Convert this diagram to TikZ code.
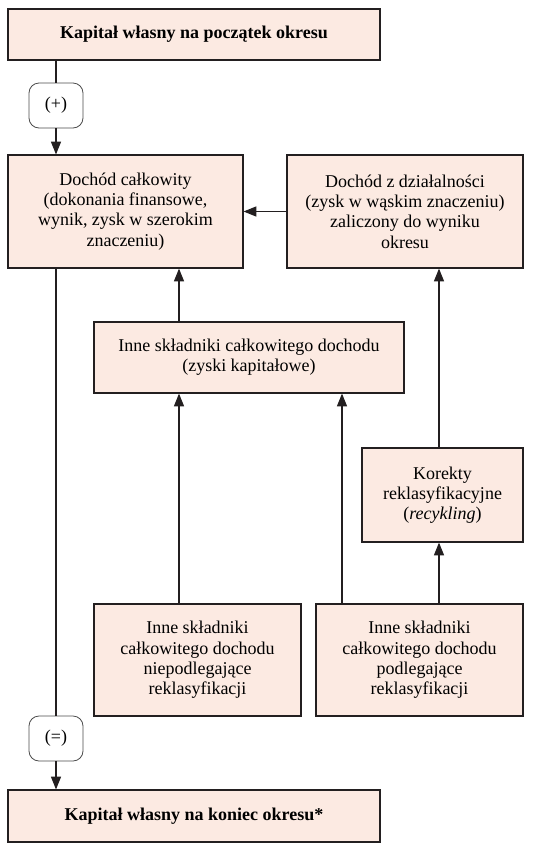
\documentclass[tikz,border=0pt]{standalone}
\usepackage{fontspec}
\setmainfont{Liberation Serif}
\newfontfamily\diagfont{Liberation Serif}
\usepackage{tikz}
\usetikzlibrary{arrows.meta}
\definecolor{boxFill}{RGB}{252,234,226}
\definecolor{boxLine}{RGB}{35,31,32}

\begin{document}
\begin{tikzpicture}[
  x=0.75pt,y=-0.75pt,
  font=\diagfont\fontsize{13.5}{15.2}\selectfont,
  every node/.style={align=center},
  finBox/.style={draw=boxLine,line width=0.9pt,rectangle,fill=boxFill,inner sep=2pt},
  capBox/.style={finBox,font=\diagfont\fontsize{13.5}{15.2}\selectfont\bfseries,minimum width=279pt},
  opSign/.style={draw=black!70,line width=0.6pt,rounded corners=7.5pt,fill=white,
    minimum width=40.5pt,minimum height=33.75pt,inner sep=0pt},
  flowLine/.style={-,line width=0.8pt,boxLine},
  flowArrow/.style={-{Triangle[length=9.5pt,width=7.5pt]},line width=0.8pt,boxLine}]

  \useasboundingbox (0,0) rectangle (544,851);

  % columns used by the vertical connectors
  \coordinate (colL) at (56,0);
  \coordinate (colA) at (179,0);
  \coordinate (colB) at (342,0);
  \coordinate (colC) at (439,0);

  % equity at the start and at the end
  \node[capBox,minimum height=38.25pt] (kStart) at (194,34.5) {Kapitał własny na początek okresu};
  \node[capBox,minimum height=39pt] (kEnd) at (194,816) {Kapitał własny na koniec okresu*};

  \node[opSign] (plus) at (56,105.5) {(+)};
  \node[opSign] (equals) at (56,738.5) {(=)};

  % income boxes
  \node[finBox,minimum width=176.25pt,minimum height=84.75pt] (dCalk) at (125.5,211.5)
    {Dochód całkowity\\(dokonania finansowe,\\wynik, zysk w szerokim\\znaczeniu)};
  \node[finBox,minimum width=177pt,minimum height=84.75pt] (dDzial) at (405,211.5)
    {Dochód z działalności\\(zysk w wąskim znaczeniu)\\zaliczony do wyniku\\okresu};
  \node[finBox,minimum width=232.5pt,minimum height=53.25pt] (inneSkl) at (249,357.5)
    {Inne składniki całkowitego dochodu\\(zyski kapitałowe)};
  \node[finBox,minimum width=120.75pt,minimum height=70.5pt] (korekty) at (442.5,495)
    {Korekty\\reklasyfikacyjne\\(\textit{recykling})};
  \node[finBox,minimum width=155.25pt,minimum height=84pt] (nieReklas) at (197.5,660)
    {Inne składniki\\całkowitego dochodu\\niepodlegające\\reklasyfikacji};
  \node[finBox,minimum width=155.25pt,minimum height=84pt] (reklas) at (419.5,660)
    {Inne składniki\\całkowitego dochodu\\podlegające\\reklasyfikacji};

  % main line on the left
  \draw [flowLine] (kStart.south -| colL) -- (plus.north);
  \draw [flowArrow] (plus.south) -- (dCalk.north -| colL);
  \draw [flowLine] (dCalk.south -| colL) -- (equals.north);
  \draw [flowArrow] (equals.south) -- (kEnd.north -| colL);

  % components to total income
  \draw [flowArrow] (dDzial.west) -- (dCalk.east);
  \draw [flowArrow] (inneSkl.north -| colA) -- (dCalk.south -| colA);
  \draw [flowArrow] (korekty.north -| colC) -- (dDzial.south -| colC);
  \draw [flowArrow] (nieReklas.north -| colA) -- (inneSkl.south -| colA);
  \draw [flowArrow] (reklas.north -| colB) -- (inneSkl.south -| colB);
  \draw [flowArrow] (reklas.north -| colC) -- (korekty.south -| colC);
\end{tikzpicture}
\end{document}
